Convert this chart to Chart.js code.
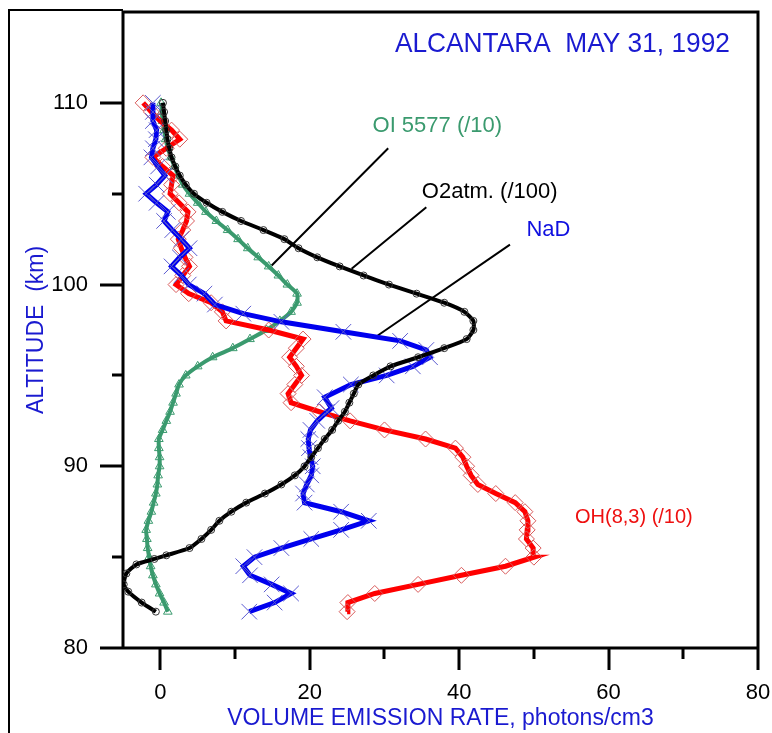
<!DOCTYPE html>
<html>
<head>
<meta charset="utf-8">
<script src="https://cdn.jsdelivr.net/npm/chart.js@4/dist/chart.umd.min.js"></script>
<style>
  body { margin: 0; background: #fff; }
  #wrap { width: 772px; height: 733px; }
</style>
</head>
<body>
<div id="wrap"><canvas id="chart" width="772" height="733"></canvas></div>
<script>
// Altitude grid (km) and emission profiles
const ohAlt = [82, 82.5, 83, 83.5, 84, 84.5, 85, 85.5, 86, 86.5, 87, 87.5, 88, 88.5, 89, 89.5, 90, 90.5, 91, 91.5,
    92, 92.5, 93, 93.5, 94, 94.5, 95, 95.5, 96, 96.5, 97, 97.5, 98, 98.5, 99, 99.5, 100, 100.5, 101, 101.5,
    102, 102.5, 103, 103.5, 104, 104.5, 105, 105.5, 106, 106.5, 107, 107.5, 108, 108.5, 109, 109.5, 110];
const ohVal = [25.0, 25.1, 28.7, 34.5, 40.3, 46.2, 50.0, 49.9, 49.0, 49.1, 49.2, 48.8, 47.5, 44.9, 42.5, 41.6, 41.0, 40.5, 39.5, 35.5,
    30.0, 25.4, 21.3, 17.5, 17.1, 18.0, 18.9, 18.2, 17.3, 18.2, 19.1, 14.5, 8.8, 8.3, 6.8, 3.8, 2.1, 3.0, 3.9, 3.3,
    2.8, 2.4, 3.0, 3.5, 3.7, 2.5, 1.3, 1.5, 1.7, 0.3, -1.0, 0.8, 2.6, 1.5, 0.0, -1.2, -2.3];

const naAlt = [82, 82.5, 83, 83.5, 84, 84.5, 85, 85.5, 86, 86.5, 87, 87.5, 88, 88.5, 89, 89.5, 90, 90.5, 91, 91.5,
    92, 92.5, 93, 93.2, 93.8, 94.5, 95, 95.5, 96, 96.4, 96.9, 97.4, 97.95, 98.4, 98.9, 99.5, 100, 100.5, 101, 101.5,
    102, 102.5, 103, 103.5, 104, 104.5, 105, 105.5, 106, 106.5, 107, 107.5, 108, 108.5, 109, 109.5, 110];
const naVal = [11.9, 15.3, 17.5, 14.9, 12.0, 11.1, 12.6, 16.2, 20.2, 24.2, 27.9, 24.2, 19.3, 19.1, 19.6, 20.2, 20.4, 20.1, 19.9, 19.8,
    20.1, 21.0, 22.3, 22.9, 22.0, 25.5, 30.3, 33.8, 36.1, 35.6, 32.1, 24.5, 16.2, 11.1, 7.3, 5.9, 3.8, 2.8, 1.5, 2.6,
    3.9, 2.8, 1.6, 0.5, 1.0, -0.5, -1.9, -0.5, 0.6, -0.3, -1.2, -1.0, -0.6, -0.5, -1.0, -1.0, -1.0];

const oiAlt = [82, 82.5, 83, 83.5, 84, 84.5, 85, 85.5, 86, 86.5, 87, 87.5, 88, 88.5, 89, 89.5, 90, 90.5, 91, 91.5,
    92, 92.5, 93, 93.5, 94, 94.5, 95, 95.5, 96, 96.5, 97, 97.5, 98, 98.5, 99, 99.5, 100, 100.5, 101, 101.5,
    102, 102.5, 103, 103.5, 104, 104.5, 105, 105.5, 106, 106.5, 107, 107.5, 108, 108.5, 109, 109.5, 110];
const oiVal = [1.0, 0.5, -0.1, -0.6, -1.0, -1.3, -1.5, -1.7, -1.8, -1.9, -1.6, -1.2, -0.9, -0.6, -0.4, -0.3, -0.1, -0.1, -0.2, -0.2,
    0.3, 0.8, 1.3, 1.7, 2.1, 2.5, 3.4, 5.0, 7.0, 9.7, 12.0, 14.2, 16.0, 17.5, 18.3, 18.3, 17.0, 15.8, 14.5, 13.1,
    11.7, 10.4, 9.0, 7.5, 6.1, 5.0, 3.9, 3.0, 2.4, 1.9, 1.4, 1.0, 0.7, 0.5, 0.3, 0.2, 0.1];

const o2Alt = [82, 82.5, 83.1, 83.5, 84.1, 84.6, 84.9, 85.1, 85.5, 86, 86.5, 87, 87.5, 88, 88.5, 89, 89.5, 90, 90.5, 91,
    91.5, 92, 92.5, 93, 93.5, 94, 94.5, 95, 95.5, 96, 96.5, 97, 97.5, 98, 98.5, 99, 99.5, 100, 100.5, 101,
    101.5, 102, 102.5, 103, 103.5, 104, 104.5, 105, 105.5, 106, 106.5, 107, 107.5, 108, 108.5, 109, 109.5, 110];
const o2Val = [-0.6, -2.5, -4.3, -4.9, -4.55, -3.2, -0.8, 0.8, 3.9, 5.5, 6.8, 7.9, 9.5, 11.5, 14.0, 16.2, 18.0, 19.3, 20.2, 21.1,
    22.0, 23.0, 23.8, 24.7, 25.3, 25.9, 26.5, 28.5, 30.8, 34.5, 38.0, 41.0, 41.9, 41.9, 40.7, 38.0, 34.3, 30.6, 27.2, 24.0,
    21.0, 18.5, 16.6, 13.8, 10.8, 8.3, 6.2, 4.5, 3.4, 2.6, 2.0, 1.5, 1.2, 0.95, 0.8, 0.65, 0.5, 0.35];

const xTicks = [0, 20, 40, 60, 80];
const xMinorTicks = [10, 30, 50, 70];
const yTicks = [80, 90, 100, 110];
const yMinorTicks = [85, 95, 105];

const FONT = '"Liberation Sans", Arial, sans-serif';

function pts(alt, val) {
    return alt.map((a, i) => ({ x: val[i], y: a }));
}

// Curve labels with their leader lines (data coordinates)
const curveLabels = [
    { text: 'OI 5577 (/10)', color: '#3a9a6e', size: 22, at: [28.4, 108.4], from: [30.5, 107.5], to: [14.9, 101.05] },
    { text: 'O2atm. (/100)', color: '#000000', size: 22, at: [35.0, 104.75], from: [35.6, 104.25], to: [25.6, 100.87] },
    { text: 'NaD', color: '#1010e0', size: 22, at: [49.0, 102.7], from: [46.8, 102.2], to: [29.1, 97.2] },
    { text: 'OH(8,3) (/10)', color: '#ee1010', size: 20, at: [55.5, 86.9] }
];

// Frame, axis lines and tick marks
const framePlugin = {
    id: 'frame',
    beforeDatasetsDraw(chart) {
        const { ctx, chartArea: a, scales: { x, y } } = chart;
        ctx.save();
        ctx.strokeStyle = '#000';
        ctx.lineWidth = 2;
        ctx.beginPath();
        ctx.moveTo(9, chart.height);
        ctx.lineTo(9, 10);
        ctx.lineTo(a.left, 10);
        ctx.stroke();

        ctx.lineWidth = 3;
        ctx.beginPath();
        ctx.moveTo(a.left, a.bottom);
        ctx.lineTo(a.left, a.top);
        ctx.lineTo(a.right, a.top);
        ctx.lineTo(a.right, a.bottom);
        ctx.moveTo(a.left - 23, a.bottom);
        ctx.lineTo(a.right, a.bottom);
        yTicks.forEach(v => {
            const p = Math.round(y.getPixelForValue(v));
            ctx.moveTo(a.left - 23, p); ctx.lineTo(a.left, p);
        });
        yMinorTicks.forEach(v => {
            const p = Math.round(y.getPixelForValue(v));
            ctx.moveTo(a.left - 11, p); ctx.lineTo(a.left, p);
        });
        xTicks.forEach(v => {
            const p = Math.round(x.getPixelForValue(v));
            ctx.moveTo(p, a.bottom); ctx.lineTo(p, a.bottom + 22);
        });
        xMinorTicks.forEach(v => {
            const p = Math.round(x.getPixelForValue(v));
            ctx.moveTo(p, a.bottom); ctx.lineTo(p, a.bottom + 11);
        });
        ctx.stroke();

        // leader lines
        ctx.lineWidth = 2;
        ctx.beginPath();
        curveLabels.forEach(l => {
            if (!l.from) return;
            ctx.moveTo(x.getPixelForValue(l.from[0]), y.getPixelForValue(l.from[1]));
            ctx.lineTo(x.getPixelForValue(l.to[0]), y.getPixelForValue(l.to[1]));
        });
        ctx.stroke();
        ctx.restore();
    },
    afterDraw(chart) {
        const { ctx, scales: { x, y } } = chart;
        ctx.save();
        ctx.textBaseline = 'alphabetic';
        ctx.textAlign = 'left';
        curveLabels.forEach(l => {
            ctx.font = l.size + 'px ' + FONT;
            ctx.fillStyle = l.color;
            ctx.fillText(l.text, x.getPixelForValue(l.at[0]), y.getPixelForValue(l.at[1]));
        });
        // title, set inside the plot box at the top right
        ctx.fillStyle = '#1a1ad0';
        ctx.font = '28px ' + FONT;
        const title = 'ALCANTARA  MAY 31, 1992';
        const w = ctx.measureText(title).width;
        ctx.translate(x.getPixelForValue(31.4), y.getPixelForValue(112.8));
        ctx.scale(335 / w, 1);
        ctx.fillText(title, 0, 0);
        ctx.restore();
    }
};

new Chart(document.getElementById('chart'), {
    type: 'scatter',
    data: {
        datasets: [
            {
                label: 'O2atm. (/100)', data: pts(o2Alt, o2Val), showLine: true,
                borderColor: '#000', borderWidth: 4, tension: 0.2,
                pointStyle: 'circle', pointRadius: 3.5, pointBorderWidth: 1,
                pointBorderColor: '#333', pointBackgroundColor: 'rgba(0,0,0,0)'
            },
            {
                label: 'NaD', data: pts(naAlt, naVal), showLine: true,
                borderColor: '#0000ee', borderWidth: 5, tension: 0,
                pointStyle: 'crossRot', pointRadius: 11, pointBorderWidth: 1,
                pointBorderColor: '#5a5ad0'
            },
            {
                label: 'OH(8,3) (/10)', data: pts(ohAlt, ohVal), showLine: true,
                borderColor: '#ff0000', borderWidth: 5, tension: 0,
                pointStyle: 'rectRot', pointRadius: 8, pointBorderWidth: 1,
                pointBorderColor: '#d85a5a', pointBackgroundColor: 'rgba(0,0,0,0)'
            },
            {
                label: 'OI 5577 (/10)', data: pts(oiAlt, oiVal), showLine: true,
                borderColor: '#3a9a6e', borderWidth: 4, tension: 0.2,
                pointStyle: 'triangle', pointRadius: 5, pointBorderWidth: 1,
                pointBorderColor: '#3a9a6e', pointBackgroundColor: 'rgba(0,0,0,0)'
            }
        ]
    },
    options: {
        responsive: false,
        animation: false,
        layout: { padding: { left: 0, right: 14, top: 10, bottom: 0 } },
        plugins: { legend: { display: false }, tooltip: { enabled: false }, title: { display: false } },
        scales: {
            x: {
                type: 'linear', position: 'bottom', min: -5, max: 80,
                afterBuildTicks: s => { s.ticks = xTicks.map(v => ({ value: v })); },
                afterFit: s => { s.height = 85; s.paddingLeft = 0; s.paddingRight = 0; },
                grid: { display: false, drawTicks: false },
                border: { display: false },
                ticks: { color: '#000', font: { family: FONT, size: 22 }, padding: 32, maxRotation: 0, autoSkip: false },
                title: {
                    display: true, text: 'VOLUME EMISSION RATE, photons/cm3', color: '#1a1ad0',
                    font: { family: FONT, size: 23 }, padding: { top: 0, bottom: 1 }
                }
            },
            y: {
                type: 'linear', position: 'left', min: 80, max: 115,
                afterBuildTicks: s => { s.ticks = yTicks.map(v => ({ value: v })); },
                afterFit: s => { s.width = 123; s.paddingTop = 0; s.paddingBottom = 0; },
                grid: { display: false, drawTicks: false },
                border: { display: false },
                ticks: { color: '#000', font: { family: FONT, size: 22 }, padding: 35 },
                title: {
                    display: true, text: 'ALTITUDE  (km)', color: '#1a1ad0',
                    font: { family: FONT, size: 23 }, padding: { top: 23, bottom: 0 }
                }
            }
        }
    },
    plugins: [framePlugin]
});
</script>
</body>
</html>
